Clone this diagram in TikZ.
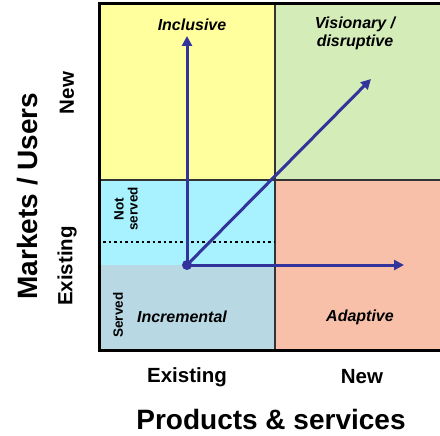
\documentclass[tikz,border=0pt]{standalone}
\usepackage{fontspec}
\setmainfont{Liberation Sans}
\usetikzlibrary{arrows.meta}
\definecolor{qyellow}{HTML}{FFFF9E}
\definecolor{qgreen}{HTML}{D4ECB8}
\definecolor{qcyan}{HTML}{A8F2FF}
\definecolor{qserved}{HTML}{B8D8E4}
\definecolor{qsalmon}{HTML}{F8C0A8}
\definecolor{qarrow}{HTML}{33339C}
\begin{document}
\begin{tikzpicture}[x=1pt,y=-1pt,every node/.style={font=\bfseries},
  quadlab/.style={font=\bfseries\itshape\fontsize{16}{18}\selectfont,align=center},
  axlab/.style={font=\bfseries\fontsize{20.5}{22}\selectfont},
  bigtitle/.style={font=\bfseries\fontsize{28}{30}\selectfont},
  smalllab/.style={font=\bfseries\fontsize{13.5}{14}\selectfont,rotate=90,align=center},
  vec/.style={qarrow,line width=3pt,-{Triangle[length=10pt,width=10pt]}}]
\useasboundingbox (0,0) rectangle (440,436);
% quadrants
\fill[qyellow] (99,4) rectangle (275,180); \fill[qgreen] (275,4) rectangle (440,180);
\fill[qcyan] (99,180) rectangle (275,265); \fill[qserved] (99,265) rectangle (275,350);
\fill[qsalmon] (275,180) rectangle (440,350);
\draw[line width=1.3pt,black!80] (275,4)--(275,350); \draw[line width=1.3pt,black!80] (99,180)--(440,180);
\draw[line width=2.5pt,dash pattern=on 2.5pt off 3pt] (103,242)--(275,242);
\draw[line width=3pt] (440,4)--(99,4)--(99,350)--(440,350);
% vectors
\node[circle,fill=qarrow,inner sep=0pt,minimum size=10pt] (origin) at (187,265) {};
\coordinate (incl) at (187,36); \coordinate (adapt) at (404,265); \coordinate (vision) at (371,79);
\draw[vec] (origin.center)--(incl); \draw[vec] (origin.center)--(adapt); \draw[vec] (origin.center)--(vision);
% quadrant labels
\node[quadlab] (inclusive) at (192,25) {Inclusive}; \node[quadlab] (visionary) at (355,33) {Visionary /\\disruptive};
\node[quadlab] (incremental) at (182,317) {Incremental}; \node[quadlab] (adaptive) at (360,317) {Adaptive};
\node[smalllab] (notserved) at (126,209) {Not\\served}; \node[smalllab] (served) at (118,315) {Served};
% axes
\node[axlab,rotate=90] (ynew) at (67,93) {New}; \node[axlab,rotate=90] (yexist) at (67,266) {Existing};
\node[bigtitle,rotate=90] (ytitle) at (28,196) {Markets / Users};
\node[axlab] (xexist) at (187,377) {Existing}; \node[axlab] (xnew) at (362,377) {New};
\node[bigtitle] (xtitle) at (271,419) {Products \& services};
\end{tikzpicture}
\end{document}
